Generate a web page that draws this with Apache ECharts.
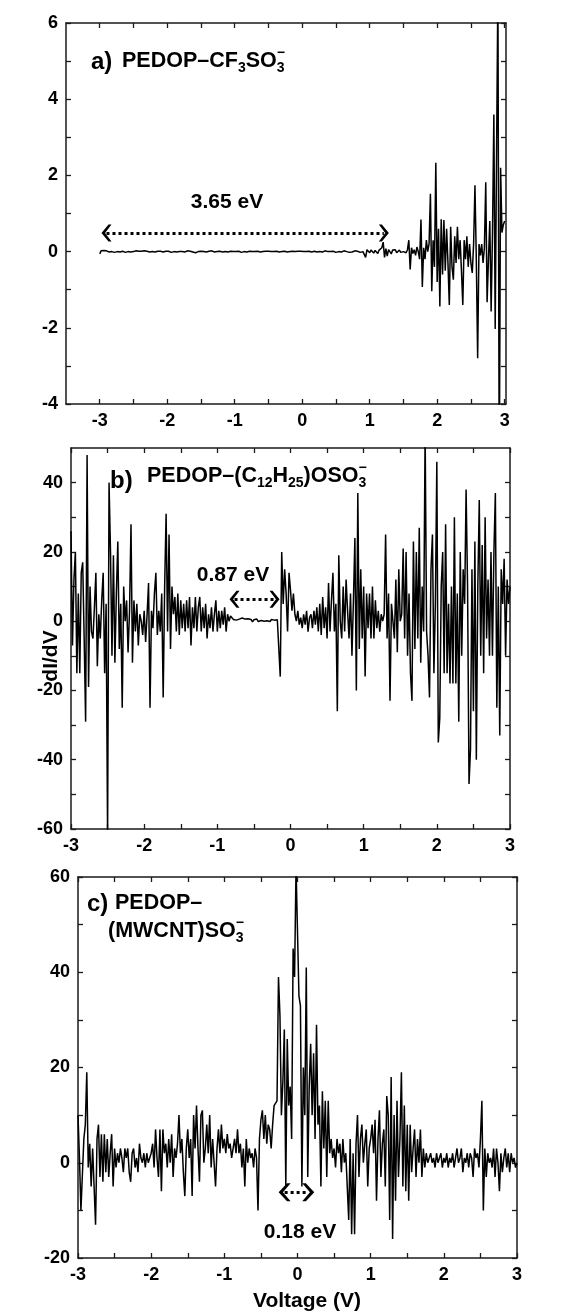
<!DOCTYPE html>
<html><head><meta charset="utf-8">
<script src="https://cdn.jsdelivr.net/npm/echarts@6/dist/echarts.min.js"></script>
<style>html,body{margin:0;padding:0;background:#fff}#c{width:563px;height:1314px}</style>
</head><body><div id="c"></div>
<script>
const dIdV_a = [
-0.06,0.02,0.01,0.03,0.00,0.02,0.01,-0.01,0.02,0.00,
0.01,-0.02,0.02,0.00,0.01,-0.01,0.02,0.01,0.00,-0.02,
0.01,0.00,0.02,-0.01,0.01,0.00,-0.01,0.02,0.00,0.01,
-0.01,0.01,0.00,0.02,-0.02,0.01,0.00,-0.01,0.01,0.00,
0.02,-0.01,0.00,0.01,-0.02,0.01,0.03,-0.01,0.00,0.01,
-0.01,0.01,0.00,-0.02,0.01,0.00,0.01,-0.01,0.02,0.00,
-0.01,0.00,0.01,-0.01,0.00,0.02,-0.02,0.01,0.00,-0.01,
0.01,-0.03,0.02,0.00,-0.01,0.01,-0.02,0.00,0.01,-0.01,
0.00,0.01,-0.01,0.02,0.00,-0.01,0.01,0.00,-0.02,0.01,
0.00,-0.01,0.01,0.00,0.02,-0.01,0.00,0.01,-0.01,0.00,
0.01,0.00,-0.01,0.01,0.00,-0.02,0.01,0.00,0.01,-0.01,
0.00,0.01,-0.01,0.00,0.02,0.00,-0.01,0.01,0.00,-0.01,
0.01,0.00,-0.02,0.01,0.00,0.01,-0.01,0.00,0.01,0.00,
-0.01,0.01,0.00,-0.01,0.02,0.00,-0.01,0.01,0.00,-0.01,
0.01,0.00,-0.01,0.01,0.00,0.00,-0.01,0.01,0.00,0.01,
-0.01,0.00,0.01,0.00,-0.01,0.01,0.00,-0.01,0.00,0.01,
0.00,-0.01,0.01,0.00,0.01,-0.01,0.00,0.02,-0.01,0.00,
0.01,0.00,-0.01,0.01,0.00,-0.02,0.01,0.00,0.01,-0.01,
0.00,0.02,-0.01,0.00,0.01,-0.02,0.03,-0.01,0.00,0.02,
-0.02,0.01,0.03,-0.02,0.02,0.00,-0.01,-0.15,0.05,0.02,
-0.03,0.04,0.01,-0.04,0.03,0.00,-0.05,0.04,0.02,0.10,
0.25,-0.15,0.08,-0.12,0.05,0.02,-0.06,0.04,0.01,0.05,
-0.03,0.02,0.04,-0.02,0.03,0.00,0.02,-0.03,0.05,0.30,
-0.47,0.10,-0.05,0.05,-0.10,0.12,0.00,-0.20,0.84,-0.93,
0.10,-0.20,0.30,0.00,0.20,1.52,-1.04,0.30,-0.40,2.33,
-0.80,0.60,-1.44,0.85,-0.60,0.83,-0.50,0.60,-0.30,-1.40,
0.65,-0.40,-0.74,0.40,-0.30,0.65,-0.20,0.30,-0.50,-1.40,
0.30,-0.20,0.40,-0.40,0.20,-0.30,-0.56,0.20,1.74,-0.20,
-2.80,0.20,-0.10,0.20,-0.30,0.10,1.82,-1.33,-0.20,0.80,
-1.57,0.50,3.60,-2.03,-2.00,7.00,-6.00,2.20,0.50,0.70,0.80];

const dIdV_b = [
26,-7,12,20,-15,8,-15,14,17,-5,
-29,48,-19,10,-3,-5,4,14,-13,2,
-5,6,14,-15,5,-62,40,20,-10,19,
-12,8,23,-8,5,-25,10,0,6,-9,
3,28,-12,6,-3,5,-7,2,0,-4,
3,-6,2,11,-25,3,-2,8,14,-4,
3,-3,8,-22,10,31,-3,25,-8,10,
2,7,-3,8,-4,6,-2,5,-3,6,
-2,7,-7,4,-2,7,-3,4,7,-3,
4,-2,5,-5,2,-2,4,-3,2,6,
-3,3,-2,3,-1,4,-3,2,0,1.5,
1.2,0.5,1.0,0.3,0.8,0.6,0.2,0.9,0.4,0.6,
0.3,0.7,0.2,0.5,-0.2,0.4,0.1,0.6,-0.1,0.3,
0.2,0.5,0.0,0.4,0.1,0.3,-0.1,0.5,0.2,0.3,
0.1,0.4,0.2,-16,20,5,15,8,-3,14,
9,3,8,2,0,3,-1,1,-2,2,
-1,3,-3,1,2,-2,3,-1,4,-3,
5,-4,7,-2,4,-5,11,-3,6,14,
-3,5,-26,19,0,-5,10,-3,12,3,
-5,8,-10,6,24,-20,37,-8,15,-5,
10,-16,8,-2,8,-5,10,-5,6,-2,
3,-3,2,0,2,25,-5,8,-23,5,
0,-5,12,-9,15,0,2,21,-5,20,
-10,8,-15,-23,23,-8,20,-5,27,-12,
10,-3,55,-3,-10,-22,15,25,-15,5,
46,-35,-28,10,20,-15,28,-15,5,-18,
10,-18,30,-18,8,-29,20,-10,15,5,
38,10,-47,-37,15,-26,23,-40,10,35,
-10,22,-15,30,-5,12,-10,20,-10,20,
37,-25,10,-33,15,5,18,-10,12,5,10];

const dIdV_c = [
10,1,-10,-10,5,8,19,-1,4,-5,
3,-5,-13,5,8,-3,6,-4,6,-2,
5,-3,2,6,-5,3,-1,2,0,3,
1,-2,3,1,3,-2,-4,2,3,-1,
1,-2,4,1,0,2,-1,2,0,1,
2,4,-1,7,1,-3,7,-6,7,2,
4,-1,5,0,6,-3,3,1,4,10,
2,5,-2,-7,3,7,1,5,-7,10,
3,12,3,-4,10,11,0,3,8,2,
10,-1,5,0,-5,3,7,2,8,3,
5,2,6,3,4,1,3,5,2,7,
2,4,-1,3,-5,5,0,3,1,2,
-1,3,1,-10,5,9,11,5,10,4,
8,7,3,8,12,12,13,39,31,10,
17,28,-5,26,12,16,5,45,39,62,
62,35,33,-5,20,10,41,-3,16,25,
10,23,5,29,8,12,-5,15,3,13,
-3,13,2,5,1,3,-1,5,2,4,
-2,5,0,2,2,-12,5,-15,2,-15,
4,10,-3,5,8,0,4,7,-5,3,
5,8,2,9,-8,5,11,-3,4,7,
-5,14,10,-12,18,-16,10,-8,13,-3,
5,19,-5,12,-6,8,-8,8,-2,3,
7,-3,5,0,7,-3,3,-1,2,0,
1,2,0,1,-1,2,0,1,2,-1,
1,0,2,-1,1,0,2,-1,1,3,
0,1,3,-2,1,0,2,-1,2,1,
-3,3,1,2,-1,5,13,-10,3,-3,
2,0,1,-1,3,-3,3,0,-6,2,
-2,1,3,-1,2,-2,2,0,1,-1,0];

// sampling grid of the bias voltage
const voltage = dIdV_b.map((_, i) => Math.round((-3 + i * 0.02) * 100) / 100);

// tick values and tick labels
const xTicks  = [-3,-2.5,-2,-1.5,-1,-0.5,0,0.5,1,1.5,2,2.5,3];
const xLabels = [-3,-2,-1,0,1,2,3];
const yTicksA = [-4,-3,-2,-1,0,1,2,3,4,5,6];
const yLabelsA = [-4,-2,0,2,4,6];
const yTicksB = [-60,-50,-40,-30,-20,-10,0,10,20,30,40];
const yLabelsB = [-60,-40,-20,0,20,40];
const yTicksC = [-20,-10,0,10,20,30,40,50,60];
const yLabelsC = [-20,0,20,40,60];

const F = '"Liberation Sans", Arial, Helvetica, sans-serif';
const AX = '#1a1a1a';
const CHEV = 'path://M5,0L10,7L10,10L5,3.6L0,10L0,7Z';

const grids = [
  {left: 66, top: 23,  width: 440, height: 381, outerBoundsMode: 'none'},
  {left: 71, top: 448, width: 439, height: 381, outerBoundsMode: 'none'},
  {left: 78, top: 877, width: 439, height: 381, outerBoundsMode: 'none'}
];

function mkX(g, min, max) {
  const common = {
    type: 'value', gridIndex: g, min: min, max: max,
    splitLine: {show: false},
    axisLine: {show: true, onZero: false, lineStyle: {color: AX, width: 1.5}},
    axisTick: {show: true, inside: true, length: 5, customValues: xTicks, lineStyle: {color: AX, width: 1.3}}
  };
  return [
    Object.assign({}, common, {position: 'bottom',
      axisLabel: {show: true, customValues: xLabels, margin: 8, color: '#000', fontSize: 18, fontWeight: 'bold', fontFamily: F}}),
    Object.assign({}, common, {position: 'top', axisLabel: {show: false}})
  ];
}
function mkY(g, min, max, ticks, labels) {
  const common = {
    type: 'value', gridIndex: g, min: min, max: max,
    splitLine: {show: false},
    axisLine: {show: true, onZero: false, lineStyle: {color: AX, width: 1.5}},
    axisTick: {show: true, inside: true, length: 5, customValues: ticks, lineStyle: {color: AX, width: 1.3}}
  };
  return [
    Object.assign({}, common, {position: 'left',
      axisLabel: {show: true, customValues: labels, margin: 8, color: '#000', fontSize: 18, fontWeight: 'bold', fontFamily: F}}),
    Object.assign({}, common, {position: 'right', axisLabel: {show: false}})
  ];
}
function mkSeries(g, vals, from, to, size) {
  return {
    type: 'line', xAxisIndex: g * 2, yAxisIndex: g * 2,
    data: vals.map((y, i) => [voltage[i], y]),
    showSymbol: false, symbol: 'none', clip: true, silent: true, animation: false,
    lineStyle: {color: '#000', width: 1.5},
    markLine: {
      silent: true, animation: false, symbol: [CHEV, CHEV], symbolSize: size,
      lineStyle: {color: '#000', width: 3, type: [3, 3]},
      label: {show: false}, emphasis: {disabled: true},
      data: [[{coord: from}, {coord: to}]]
    }
  };
}

// text helpers
const mctx = document.createElement('canvas').getContext('2d');
function fnt(size) { return 'bold ' + size + 'px ' + F; }
function tw(t, size) { mctx.font = fnt(size); return mctx.measureText(t).width; }
function txt(t, x, y, size, align, rot) {
  return {type: 'text', x: x, y: y, z: 10, silent: true, rotation: rot || 0,
    style: {text: t, font: fnt(size), fill: '#000', align: align || 'left', verticalAlign: 'middle'}};
}
function formula(x, y, pieces) {
  const out = [];
  let cx = x;
  pieces.forEach(p => {
    const s = p.size || 21.5;
    out.push(txt(p.t, cx, y + (p.dy || 0), s));
    if (p.over) out.push(txt(p.over, cx, y + p.overDy, s));
    cx += tw(p.t, s);
  });
  return out;
}

const graphics = [].concat(
  [txt('a)', 91, 62, 24)],
  formula(122, 61, [{t: 'PEDOP\u2013CF'}, {t: '3', size: 14, dy: 7}, {t: 'SO'}, {t: '3', size: 14, dy: 7, over: '\u2212', overDy: -8}]),
  [txt('3.65 eV', 227, 202, 21, 'center')],
  [txt('b)', 110, 481, 24)],
  formula(147, 476, [{t: 'PEDOP\u2013(C'}, {t: '12', size: 14, dy: 7}, {t: 'H'}, {t: '25', size: 14, dy: 7}, {t: ')OSO'}, {t: '3', size: 14, dy: 7, over: '\u2212', overDy: -8}]),
  [txt('0.87 eV', 233, 575, 21, 'center')],
  [txt('c)', 87, 904, 24)],
  formula(115, 903, [{t: 'PEDOP\u2013'}]),
  formula(108, 931, [{t: '(MWCNT)SO'}, {t: '3', size: 14, dy: 7, over: '\u2212', overDy: -8}]),
  [txt('0.18 eV', 300, 1232, 21, 'center')],
  [txt('Voltage (V)', 307, 1301, 21, 'center')],
  [txt('dI/dV', 51, 656, 21, 'center', Math.PI / 2)]
);

const chart = echarts.init(document.getElementById('c'), null, {renderer: 'canvas'});
chart.setOption({
  animation: false,
  backgroundColor: '#fff',
  grid: grids,
  xAxis: [].concat(mkX(0, -3.5, 3.02), mkX(1, -3, 3), mkX(2, -3, 3)),
  yAxis: [].concat(mkY(0, -4, 6, yTicksA, yLabelsA), mkY(1, -60, 50, yTicksB, yLabelsB), mkY(2, -20, 60, yTicksC, yLabelsC)),
  series: [
    mkSeries(0, dIdV_a, [-2.90, 0.49], [1.21, 0.49], [17, 10]),
    mkSeries(1, dIdV_b, [-0.765, 6.3], [-0.218, 6.3], [17, 10]),
    mkSeries(2, dIdV_c, [-0.176, -6.2], [0.147, -6.2], [18, 12])
  ],
  graphic: graphics
});
</script></body></html>
